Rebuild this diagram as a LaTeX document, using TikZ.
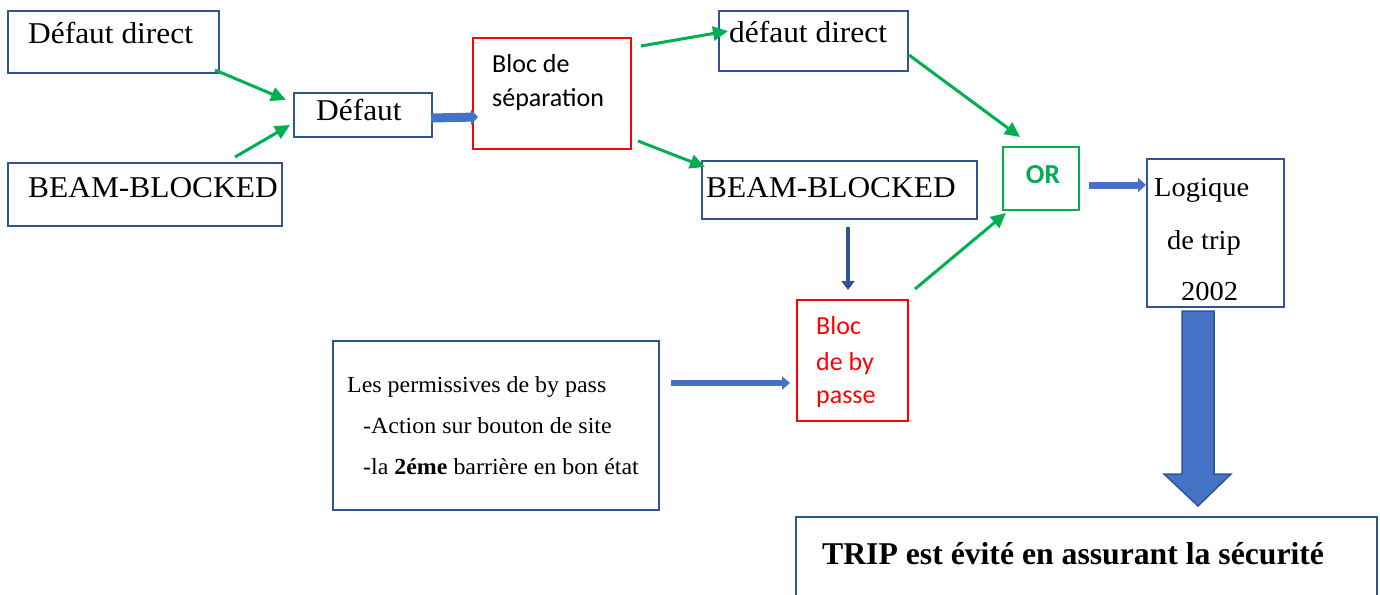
\documentclass[tikz,border=0pt]{standalone}
\usepackage{fontspec}
\setmainfont{Liberation Serif}
\newfontfamily\sserif{Liberation Serif}[FakeStretch=1.04]
\newfontfamily\ssans{Carlito}
\usetikzlibrary{arrows.meta,calc}
\definecolor{boxblue}{HTML}{2F5597}
\definecolor{arrblue}{HTML}{4472C4}
\definecolor{okgreen}{HTML}{00B050}
\definecolor{redc}{HTML}{FF0000}
\tikzset{
  bx/.style={draw=boxblue, line width=2pt, anchor=north west, inner sep=0pt, fill=white},
  rbx/.style={bx, draw=redc},
  gbx/.style={bx, draw=okgreen},
  tserif/.style={anchor=base west, inner sep=0pt, font=\sserif\fontsize{30.2}{36}\selectfont},
  tserifm/.style={anchor=base west, inner sep=0pt, font=\sserif\fontsize{27.4}{33}\selectfont},
  tserifs/.style={anchor=base west, inner sep=0pt, font=\sserif\fontsize{23}{28}\selectfont},
  tsans/.style={anchor=base west, inner sep=0pt, font=\ssans\fontsize{26}{31}\selectfont},
  garrow/.style={draw=okgreen, line width=3pt, -{Triangle[length=15pt,width=14pt]}},
  barrow/.style={draw=arrblue, -{Triangle[length=8pt,width=14pt]}},
}
\begin{document}
\begin{tikzpicture}[x=1pt,y=-1pt]
\useasboundingbox (0,0) rectangle (1380,594);
% boxes
\node[bx, minimum width=211pt, minimum height=62pt] (a) at (7,10) {};
\node[bx, minimum width=274pt, minimum height=63pt] (b) at (7,162) {};
\node[bx, minimum width=138pt, minimum height=44pt] (c) at (293,92) {};
\node[rbx, minimum width=158pt, minimum height=111pt] (d) at (472,37) {};
\node[bx, minimum width=189pt, minimum height=60pt] (e) at (718,10) {};
\node[bx, minimum width=275pt, minimum height=58pt] (f) at (701,160) {};
\node[gbx, minimum width=76pt, minimum height=63pt] (g) at (1002,146) {};
\node[bx, minimum width=137pt, minimum height=148pt] (h) at (1146,158) {};
\node[rbx, minimum width=111pt, minimum height=121pt] (i) at (796,299) {};
\node[bx, minimum width=326pt, minimum height=169pt] (j) at (332,340) {};
\node[bx, minimum width=581pt, minimum height=100pt] (k) at (795,516) {};
% texts
\node[tserif] (ta) at (28,44) {Défaut direct};
\node[tserif] (tb) at (28,197) {BEAM-BLOCKED};
\node[tserif] (tc) at (316,120) {Défaut};
\node[tsans] (td1) at (492,72.5) {Bloc de};
\node[tsans] (td2) at (492,106.5) {séparation};
\node[tserif] (te) at (729,43) {défaut direct};
\node[tserif] (tf) at (706,197) {BEAM-BLOCKED};
\node[anchor=base, inner sep=0pt, text=okgreen, font=\ssans\bfseries\fontsize{27.5}{32}\selectfont] (tg) at (1043,183) {OR};
\node[tserifm] (th1) at (1154,196) {Logique};
\node[tserifm] (th2) at (1167,249) {de trip};
\node[tserifm] (th3) at (1181,300) {2002};
\node[tsans, text=redc] (ti1) at (816,334) {Bloc};
\node[tsans, text=redc] (ti2) at (816,370) {de by};
\node[tsans, text=redc] (ti3) at (816,403) {passe};
\node[tserifs] (tj1) at (347,392) {Les permissives de by pass};
\node[tserifs] (tj2) at (363,433) {-Action sur bouton de site};
\node[tserifs] (tj3) at (363,474) {-la \textbf{2éme} barrière en bon état};
\node[anchor=base west, inner sep=0pt, font=\bfseries\fontsize{31.7}{38}\selectfont] (tk) at (822,564) {TRIP est évité en assurant la sécurité};
% green arrows
\draw[garrow] ($(a.south east)+(-5,-4)$) -- ($(c.north west)+(-7,8)$);
\draw[garrow] ($(b.north east)+(-48,-5)$) -- ($(c.south west)+(-3,-13)$);
\draw[garrow] ($(d.north east)+(9,9)$) -- ($(e.north west)+(10,21)$);
\draw[garrow] ($(d.south east)+(6,-9)$) -- ($(f.north west)+(4,7)$);
\draw[garrow] ($(e.east)+(0,14)$) -- ($(g.north west)+(18,-9)$);
\draw[garrow] ($(i.north east)+(6,-10)$) -- ($(g.south west)+(4,2)$);
% blue arrows
\draw[barrow, line width=9pt, -{Triangle[length=7pt,width=15pt]}] ($(c.east)+(-2,3)$) -- ($(d.north west)+(6,80)$);
\draw[barrow, draw=boxblue, line width=4.5pt, -{Triangle[length=9pt,width=13pt]}] ($(f.south)+(8.5,7)$) -- ($(i.north)+(-4.5,-9)$);
\draw[barrow, line width=6pt, -{Triangle[length=8pt,width=13pt]}] ($(j.east)+(11,-42.5)$) -- ($(i.west)+(-6,22.5)$);
\draw[barrow, line width=7pt, -{Triangle[length=8pt,width=14pt]}] ($(g.east)+(9,6.5)$) -- ($(h.west)+(0,-48)$);
% block arrow
\coordinate (top) at ($(h.south)+(-17.5,3)$);
\coordinate (tip) at ($(top |- k.north)+(0,-10)$);
\filldraw[fill=arrblue, draw=boxblue, line width=1.5pt, line join=miter]
  ($(top)+(-16,0)$) -- ($(top)+(16,0)$) -- ($(tip)+(16,-32)$) -- ($(tip)+(33,-32)$)
  -- (tip) -- ($(tip)+(-34,-32)$) -- ($(tip)+(-16,-32)$) -- cycle;
\end{tikzpicture}
\end{document}
